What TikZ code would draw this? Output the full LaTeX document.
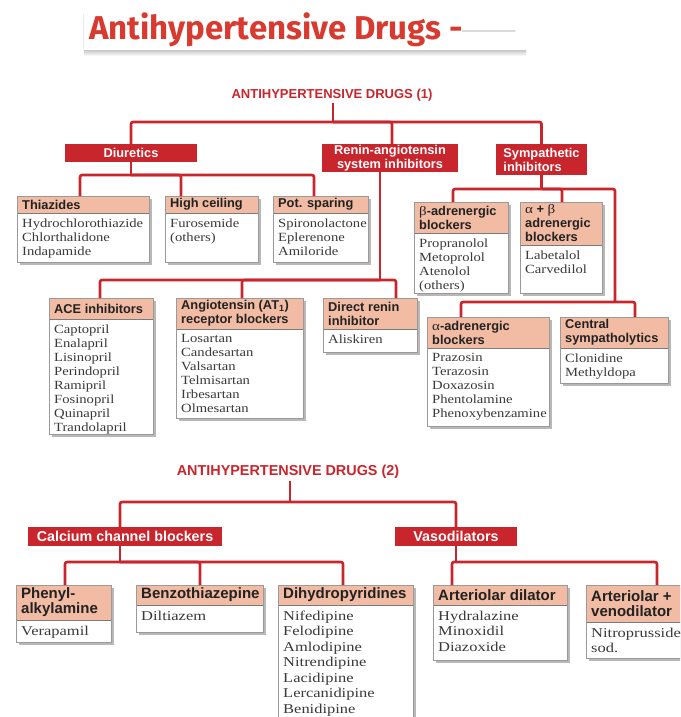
\documentclass[tikz,border=0pt]{standalone}
\usepackage{fontspec}
\setmainfont{Liberation Serif}
\newfontfamily\hsans{Liberation Sans}
\newfontfamily\serA[FakeStretch=1.17]{Liberation Serif}
\newfontfamily\serB[FakeStretch=1.22]{Liberation Serif}
\newfontfamily\titlefont{Fira Sans}
\definecolor{myred}{HTML}{C9252C}
\definecolor{hdrfill}{HTML}{F2BBA3}
\definecolor{titlered}{HTML}{D93A2F}
\definecolor{bodyc}{HTML}{3A3A3A}
\definecolor{hdrtext}{HTML}{222222}
\definecolor{framec}{HTML}{9A9A9A}
\definecolor{shadowc}{HTML}{B8B8B8}
\tikzset{
  conn/.style={draw=myred, line width=2.6pt, line join=round, rounded corners=2pt},
  boxnode/.style={fill=white, draw=none, inner sep=0pt, outer sep=0pt, anchor=north west},
  hdrrule/.style={draw=framec!80!black, line width=0.6pt},
  frameline/.style={draw=framec, line width=0.6pt},
  hdrA/.style={font=\hsans\bfseries\fontsize{12.8}{14}\selectfont, text=hdrtext, align=left, inner sep=0pt},
  hdrB/.style={font=\hsans\bfseries\fontsize{15}{15}\selectfont, text=hdrtext, align=left, inner sep=0pt},
  bodyA/.style={font=\serA\fontsize{12.5}{14}\selectfont, text=bodyc, align=left, inner sep=0pt},
  bodyB/.style={font=\serB\fontsize{13.5}{15.5}\selectfont, text=bodyc, align=left, inner sep=0pt},
  catA/.style={fill=myred, text=white, inner sep=0pt, outer sep=0pt, anchor=north west,
     font=\hsans\bfseries\fontsize{12.8}{14}\selectfont},
  catB/.style={fill=myred, text=white, inner sep=0pt, outer sep=0pt, anchor=north west,
     font=\hsans\bfseries\fontsize{14.3}{16}\selectfont},
  headA/.style={text=myred, inner sep=2pt, font=\hsans\bfseries\fontsize{13}{15}\selectfont},
  headB/.style={text=myred, inner sep=2pt, font=\hsans\bfseries\fontsize{14.4}{16}\selectfont},
  titlestyle/.style={text=titlered, inner sep=0pt, font=\titlefont\bfseries\fontsize{33}{36}\selectfont}
}
% #1 name, #2 x1, #3 y1, #4 x2, #5 header bottom, #6 y2, #7 header, #8 body, #9 A/B
\newcommand\drugbox[9]{%
  \fill[shadowc] ({#2+3},{#3+3}) rectangle ({#4+3},{#6+3});
  \node[boxnode, minimum width={#4-#2}, minimum height={#6-#3}] (#1) at (#2,#3) {};
  \fill[hdrfill] (#2,#3) rectangle (#4,#5);
  \draw[hdrrule] (#2,#5) -- (#4,#5);
  \draw[frameline] (#1.north west) rectangle (#1.south east);
  \node[hdr#9, anchor=west] at ({#2+5},{(#3+#5)/2}) {#7};
  \node[body#9, anchor=north west] at ({#2+5},{#5+5.5}) {#8};
}
% #1 name, #2 x1, #3 y1, #4 x2, #5 y2, #6 text, #7 style, #8 align
\newcommand\catbox[8]{%
  \node[#7, minimum width={#4-#2}, minimum height={#5-#3}, align=#8] (#1) at (#2,#3) {#6};
}
\begin{document}
\begin{tikzpicture}[x=1pt,y=-1pt]
\useasboundingbox (0,0) rectangle (680,717);
\clip (0,0) rectangle (680,717);
\fill[white] (0,0) rectangle (680,717);

% title
\shade[top color=black!22, bottom color=white] (84,50) rectangle (526,56);
\draw[black!8, line width=0.8pt] (83.5,14) -- (83.5,50);
\fill[white] (84,5) rectangle (526,50);
\node[titlestyle, anchor=base west] (title) at (89,40) {Antihypertensive Drugs -};
\draw[black!14, line width=1.3pt, line cap=round] (462,31) -- (515,31);

% ---------------- part 1 ----------------
\node[headA] (h1) at (332,95) {ANTIHYPERTENSIVE DRUGS (1)};
\catbox{diur}{65}{144}{197}{162}{Diuretics}{catA}{center}
\catbox{ren}{322}{144}{458}{172}{Renin-angiotensin\\system inhibitors}{catA}{center}
\catbox{symp}{496}{144}{587}{175}{Sympathetic\\inhibitors}{catA}{left}

\drugbox{thz}{17}{196}{149}{213}{262}{Thiazides}{Hydrochlorothiazide\\Chlorthalidone\\Indapamide}{A}
\drugbox{hc}{165}{196}{258}{213}{262}{High ceiling}{Furosemide\\(others)}{A}
\drugbox{ps}{273}{196}{368}{213}{262}{Pot. sparing}{Spironolactone\\Eplerenone\\Amiloride}{A}
\drugbox{beta}{414}{202}{508}{233}{293}{{\serA\mdseries β}-adrenergic\\blockers}{Propranolol\\Metoprolol\\Atenolol\\(others)}{A}
\drugbox{ab}{520}{202}{602}{245}{293}{{\serA\mdseries α} + {\serA\mdseries β}\\adrenergic\\blockers}{Labetalol\\Carvedilol}{A}
\drugbox{ace}{49}{298}{153}{319}{434}{ACE inhibitors}{Captopril\\Enalapril\\Lisinopril\\Perindopril\\Ramipril\\Fosinopril\\Quinapril\\Trandolapril}{A}
\drugbox{at1}{176}{298}{303}{329}{418}{Angiotensin (AT\textsubscript{1})\\receptor blockers}{Losartan\\Candesartan\\Valsartan\\Telmisartan\\Irbesartan\\Olmesartan}{A}
\drugbox{dri}{323}{298}{417}{329}{352}{Direct renin\\inhibitor}{Aliskiren}{A}
\drugbox{alpha}{427}{317}{549}{348}{426}{{\serA\mdseries α}-adrenergic\\blockers}{Prazosin\\Terazosin\\Doxazosin\\Phentolamine\\Phenoxybenzamine}{A}
\drugbox{cen}{560}{317}{668}{348}{383}{Central\\sympatholytics}{Clonidine\\Methyldopa}{A}

\coordinate (j1) at (333,122);
\coordinate (j2) at (131,175);
\coordinate (j3) at (380,280);
\coordinate (j4) at (541.5,189);
\coordinate (j5) at (615,302);
\draw[conn] (h1.south -| j1) -- (j1);
\draw[conn] (j1) -| (diur.north);
\draw[conn] (j1) -| ([xshift=2pt]ren.north);
\draw[conn] (j1) -| (symp.north);
\draw[conn] (diur.south) -- (j2);
\draw[conn] (j2) -| ([xshift=63pt]thz.north west);
\draw[conn] (j2) -| ([xshift=16pt]hc.north west);
\draw[conn] (j2) -| ([xshift=41pt]ps.north west);
\draw[conn] (ren.south -| j3) -- (j3);
\draw[conn] (j3) -| ([xshift=51pt]ace.north west);
\draw[conn] (j3) -| ([xshift=66pt]at1.north west);
\draw[conn] (j3) -| ([xshift=73pt]dri.north west);
\draw[conn] (symp.south) -- (j4);
\draw[conn] (j4) -| ([xshift=39pt]beta.north west);
\draw[conn] (j4) -| ([xshift=42pt]ab.north west);
\draw[conn] (j4) -| (j5);
\draw[conn] (j5) -| ([xshift=34pt]alpha.north west);
\draw[conn] (j5) -| ([xshift=75pt]cen.north west);

% ---------------- part 2 ----------------
\node[headB] (h2) at (288,472) {ANTIHYPERTENSIVE DRUGS (2)};
\catbox{ccb}{28}{527}{222}{546}{Calcium channel blockers}{catB}{center}
\catbox{vaso}{395}{527}{517}{546}{Vasodilators}{catB}{center}

\drugbox{ph}{16}{585}{111}{620}{642}{Phenyl-\\alkylamine}{Verapamil}{B}
\drugbox{bz}{136}{585}{263}{605}{632}{Benzothiazepine}{Diltiazem}{B}
\drugbox{dhp}{278}{585}{413}{605}{725}{Dihydropyridines}{Nifedipine\\Felodipine\\Amlodipine\\Nitrendipine\\Lacidipine\\Lercanidipine\\Benidipine}{B}
\drugbox{ad}{433}{585}{567}{605}{660}{Arteriolar dilator}{Hydralazine\\Minoxidil\\Diazoxide}{B}
\drugbox{av}{586}{585}{705}{622}{658}{Arteriolar +\\venodilator}{Nitroprusside\\sod.}{B}

\coordinate (j6) at (290,502);
\coordinate (j7) at (120,562);
\coordinate (j8) at (456,562);
\draw[conn] (h2.south -| j6) -- (j6);
\draw[conn] (j6) -| ([xshift=92pt]ccb.north west);
\draw[conn] (j6) -| (vaso.north);
\draw[conn] ([xshift=92pt]ccb.south west) -- (j7);
\draw[conn] (j7) -| ([xshift=49pt]ph.north west);
\draw[conn] (j7) -| ([xshift=64pt]bz.north west);
\draw[conn] (j7) -| ([xshift=65pt]dhp.north west);
\draw[conn] (vaso.south) -- (j8);
\draw[conn] (j8) -| ([xshift=19pt]ad.north west);
\draw[conn] (j8) -| ([xshift=71pt]av.north west);
\end{tikzpicture}
\end{document}
